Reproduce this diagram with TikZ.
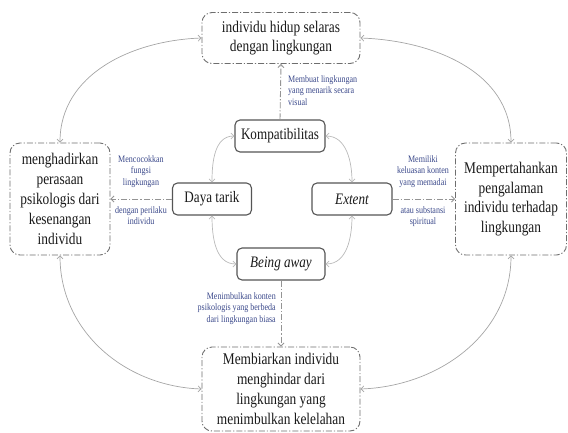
\documentclass[tikz,border=0pt]{standalone}
\usepackage{fontspec}
\setmainfont{Liberation Serif}[FakeStretch=0.82]
\usetikzlibrary{arrows.meta}
\definecolor{lblue}{RGB}{58,72,138}
\definecolor{obord}{RGB}{110,110,110}
\definecolor{ibord}{RGB}{85,85,85}
\definecolor{arcgray}{RGB}{165,165,165}
\definecolor{inarc}{RGB}{185,185,185}
\tikzset{
  outerbox/.style={draw=obord, line width=0.9pt, rounded corners=10pt,
    dash pattern=on 6pt off 2pt on 1.2pt off 2pt, align=center, inner sep=0pt,
    font=\fontsize{16.3}{19.8}\selectfont, text=black!90},
  innerbox/.style={draw=ibord, line width=1.1pt, rounded corners=5pt, align=center,
    inner sep=0pt, minimum height=32pt, font=\fontsize{16}{18}\selectfont, text=black!90},
  lbl/.style={text=lblue, inner sep=0pt, font=\fontsize{9.8}{11.8}\selectfont},
  outarc/.style={draw=arcgray, line width=0.7pt, {Straight Barb[length=3pt,width=6pt]}-{Straight Barb[length=3pt,width=6pt]}},
  inarcs/.style={draw=inarc, line width=0.7pt, {Straight Barb[length=3pt,width=6pt]}-{Straight Barb[length=3pt,width=6pt]}},
  dda/.style={draw=arcgray!90!black, line width=0.9pt, dash pattern=on 6pt off 2pt on 1.2pt off 2pt, -{Straight Barb[length=3pt,width=6pt]}}
}
\begin{document}
\begin{tikzpicture}[x=1pt,y=-1pt]
\useasboundingbox (0,0) rectangle (568,432);
% outer boxes
\node[outerbox, minimum width=158pt, minimum height=51pt] (top) at (281,38) {individu hidup selaras\\dengan lingkungan};
\node[outerbox, minimum width=100pt, minimum height=112pt] (left) at (60,199) {menghadirkan\\perasaan\\psikologis dari\\kesenangan\\individu};
\node[outerbox, minimum width=111pt, minimum height=112pt] (right) at (511,199) {Mempertahankan\\pengalaman\\individu terhadap\\lingkungan};
\node[outerbox, minimum width=158pt, minimum height=84pt] (bot) at (281,389) {Membiarkan individu\\menghindar dari\\lingkungan yang\\menimbulkan kelelahan};
% inner boxes
\node[innerbox, minimum width=90pt] (komp) at (280,136) {Kompatibilitas};
\node[innerbox, minimum width=79pt] (daya) at (212,199) {Daya tarik};
\node[innerbox, minimum width=80pt] (ext) at (352,199) {\itshape Extent};
\node[innerbox, minimum width=88pt] (away) at (281,264) {\itshape Being away};
% outer arcs
\draw[outarc] (left.north) to[out=90,in=182] (top.west);
\draw[outarc] (top.east) to[out=-2,in=90] (right.north);
\draw[outarc] (left.south) to[out=-90,in=178] (bot.west);
\draw[outarc] (bot.east) to[out=2,in=-90] (right.south);
% inner arcs
\draw[inarcs] (daya.north) to[out=90,in=180] (komp.west);
\draw[inarcs] (komp.east) to[out=0,in=90] (ext.north);
\draw[inarcs] (daya.south) to[out=-90,in=180] (away.west);
\draw[inarcs] (away.east) to[out=0,in=-90] (ext.south);
% dashed arrows
\draw[dda] (komp.north) -- (top.south);
\draw[dda] (daya.west) -- (left.east);
\draw[dda] (ext.east) -- (right.west);
\draw[dda] (away.south) -- (bot.north);
% labels
\node[lbl, align=left, anchor=north west] (l1) at (288,75) {Membuat lingkungan\\yang menarik secara\\visual};
\node[lbl, align=center, anchor=south] (l2) at (141,188) {Mencocokkan\\fungsi\\lingkungan};
\node[lbl, align=center, anchor=north] (l3) at (141,206) {dengan perilaku\\individu};
\node[lbl, align=center, anchor=south] (l4) at (423,188) {Memiliki\\keluasan konten\\yang memadai};
\node[lbl, align=center, anchor=north] (l5) at (423,206) {atau substansi\\spiritual};
\node[lbl, align=right, anchor=north east] (l6) at (276,292) {Menimbulkan konten\\psikologis yang berbeda\\dari lingkungan biasa};
\end{tikzpicture}
\end{document}
